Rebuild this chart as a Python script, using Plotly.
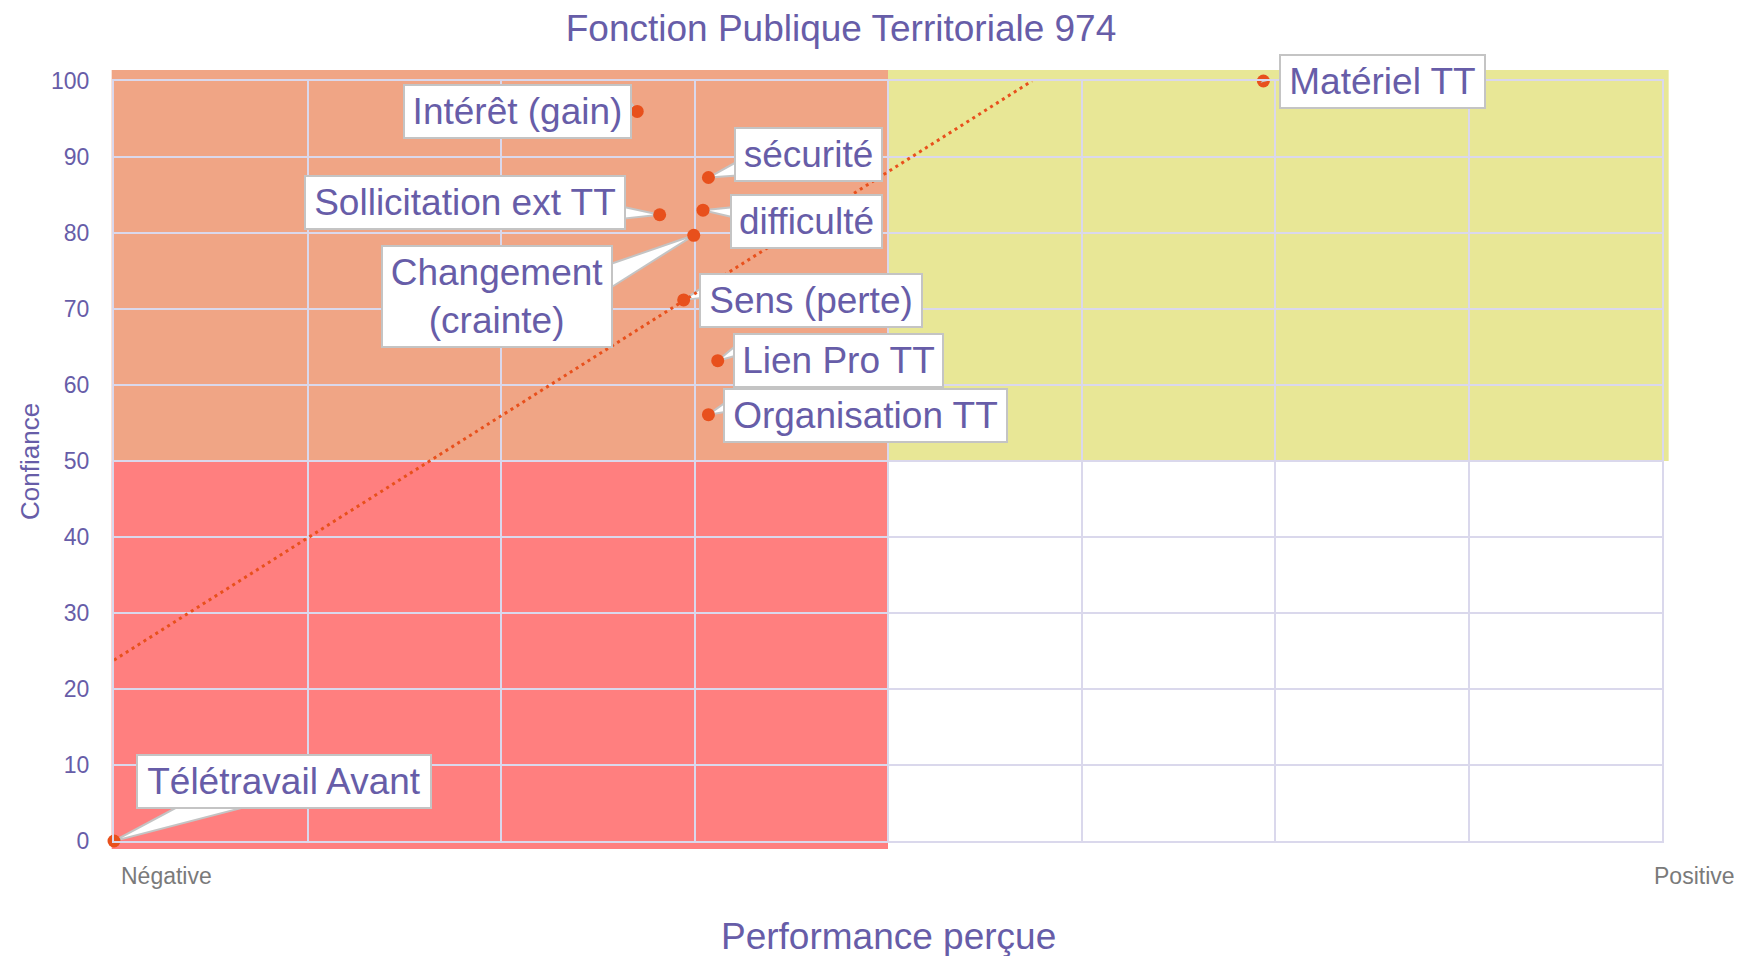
import plotly.graph_objects as go

# --- data -----------------------------------------------------------------
TITLE = "Fonction Publique Territoriale 974"
X_TITLE = "Performance perçue"
Y_TITLE = "Confiance"

labels = [
    "Intérêt (gain)",
    "sécurité",
    "Sollicitation ext TT",
    "difficulté",
    "Changement<br>(crainte)",
    "Sens (perte)",
    "Lien Pro TT",
    "Organisation TT",
    "Matériel TT",
    "Télétravail Avant",
]
performance = [-32.4, -23.2, -29.5, -23.9, -25.1, -26.4, -22.0, -23.2, 48.5, -100]
confiance = [96.0, 87.3, 82.4, 83.0, 79.7, 71.2, 63.2, 56.1, 100, 0]

# linear trend line (end points as drawn)
trend_x = [-100, 18.6]
trend_y = [23.8, 100]

x_ticks = [-100, -75, -50, -25, 0, 25, 50, 75, 100]
x_edge_values = [-100, 100]
x_edge_labels = ["Négative", "Positive"]
y_ticks = [0, 10, 20, 30, 40, 50, 60, 70, 80, 90, 100]

# --- styling ---------------------------------------------------------------
FONT = "Liberation Sans, Arial, sans-serif"
PURPLE = "#675DA8"
GRID = "#DAD8EC"
MARKER = "#E8501C"
SALMON = "#F0A585"
RED = "#FF7F7F"
YELLOW = "#E8E796"
BOX_LINE = "#C4C4C4"

# label placement: side of box, box edge offset (px), box centre offset (px, y down),
# box outer width (px), callout wedge base points (px, y down) relative to the point
PLACE = {
    "Intérêt (gain)": ("right", -5, 0, 229, [(-8, -11), (-8, 1)]),
    "sécurité": ("left", 26, -23, 149, [(29, -16), (29, -2)]),
    "Sollicitation ext TT": ("right", -34, -12, 322, [(-37, -8), (-37, 4)]),
    "difficulté": ("left", 27, 11, 153, [(30, -3), (30, 7)]),
    "Changement<br>(crainte)": ("right", -81, 61, 232, [(-84, 29), (-84, 53)]),
    "Sens (perte)": ("left", 15, 1, 224, [(18, -12), (18, -2)]),
    "Lien Pro TT": ("left", 15, 0, 211, [(18, -15), (18, -5)]),
    "Organisation TT": ("left", 15, 1, 285, [(18, -13), (18, -3)]),
    "Matériel TT": ("left", 16, 0, 207, [(19, -21), (19, -5)]),
    "Télétravail Avant": ("left", 22, -60, 296, [(69, -37), (143, -37)]),
}
BORDER_W, BORDER_PAD = 2, 5

fig = go.Figure()

fig.add_trace(
    go.Scatter(
        x=trend_x,
        y=trend_y,
        mode="lines",
        line=dict(color=MARKER, width=3, dash="3px,4px"),
        hoverinfo="skip",
        showlegend=False,
    )
)

fig.add_trace(
    go.Scatter(
        x=performance,
        y=confiance,
        mode="markers",
        marker=dict(size=13, color=MARKER),
        cliponaxis=False,
        text=[t.replace("<br>", " ") for t in labels],
        hovertemplate="%{text}<extra></extra>",
        showlegend=False,
    )
)

# quadrant bands (paper coords so they can bleed slightly past the grid)
bands = [
    (-0.0015, 0.5, -0.0105, 0.5, RED),
    (-0.0015, 0.5, 0.5, 1.0145, SALMON),
    (0.5, 1.0043, 0.5, 1.0145, YELLOW),
]
for x0, x1, y0, y1, col in bands:
    fig.add_shape(
        type="rect", xref="paper", yref="paper",
        x0=x0, x1=x1, y0=y0, y1=y1,
        fillcolor=col, line=dict(width=0), layer="below",
    )

# callout labels
for name, px, py in zip(labels, performance, confiance):
    side, dx, dy, box_w, base = PLACE[name]
    (bx1, by1), (bx2, by2) = base
    # wedges sit under the markers, except where the plot edge would clip them
    wedge_layer = "above" if py >= 100 else "between"
    fig.add_shape(
        type="path", xref="x", yref="y",
        xsizemode="pixel", ysizemode="pixel",
        xanchor=px, yanchor=py,
        path=f"M 0,0 L {bx1},{-by1} L {bx2},{-by2} Z",
        fillcolor="white", line=dict(color=BOX_LINE, width=2),
        layer=wedge_layer,
    )
    fig.add_annotation(
        x=px, y=py, xref="x", yref="y",
        text=name, showarrow=False,
        xanchor=side, yanchor="middle",
        xshift=dx, yshift=-dy,
        width=box_w - 2 * (BORDER_W + BORDER_PAD),
        align="center",
        bgcolor="white", bordercolor=BOX_LINE,
        borderwidth=BORDER_W, borderpad=BORDER_PAD,
        font=dict(family=FONT, size=37, color=PURPLE),
    )

# x edge labels
fig.add_annotation(
    x=x_edge_values[0], y=-0.0454, xref="x", yref="paper",
    text=x_edge_labels[0], showarrow=False, xanchor="left", yanchor="middle",
    xshift=5, font=dict(family=FONT, size=23, color="#7A7A7A"),
)
fig.add_annotation(
    x=1.0484, y=-0.0454, xref="paper", yref="paper",
    text=x_edge_labels[1], showarrow=False, xanchor="right", yanchor="middle",
    font=dict(family=FONT, size=23, color="#7A7A7A"),
)

# axis titles
fig.add_annotation(
    x=0.5, y=-0.1263, xref="paper", yref="paper",
    text=X_TITLE, showarrow=False, xanchor="center", yanchor="middle",
    font=dict(family=FONT, size=37, color=PURPLE),
)
fig.add_annotation(
    x=-0.0543, y=0.5, xref="paper", yref="paper",
    text=Y_TITLE, showarrow=False, textangle=-90,
    xanchor="center", yanchor="middle",
    font=dict(family=FONT, size=26, color=PURPLE),
)

# page body has an 8px margin: shrink the figure and margins to compensate
fig.update_layout(
    width=1734,
    height=948,
    paper_bgcolor="white",
    plot_bgcolor="white",
    margin=dict(l=106, r=80, t=73, b=115),
    font=dict(family=FONT, color=PURPLE),
    title=dict(
        text=TITLE,
        xref="container", yref="container",
        x=0.4804, y=0.9789, xanchor="center", yanchor="middle",
        font=dict(family=FONT, size=37, color=PURPLE),
    ),
    showlegend=False,
)

fig.update_xaxes(
    range=[-100, 100],
    tickvals=x_ticks,
    showticklabels=False,
    showgrid=True, gridcolor=GRID, gridwidth=2,
    zeroline=False,
    showline=True, linecolor=GRID, linewidth=2, mirror=True,
    ticks="",
)
fig.update_yaxes(
    range=[0, 100],
    tickvals=y_ticks,
    showgrid=True, gridcolor=GRID, gridwidth=2,
    zeroline=False,
    showline=True, linecolor=GRID, linewidth=2, mirror=True,
    ticks="",
    ticklabelstandoff=18,
    tickfont=dict(family=FONT, size=23, color=PURPLE),
)

fig.write_html("out.html")
